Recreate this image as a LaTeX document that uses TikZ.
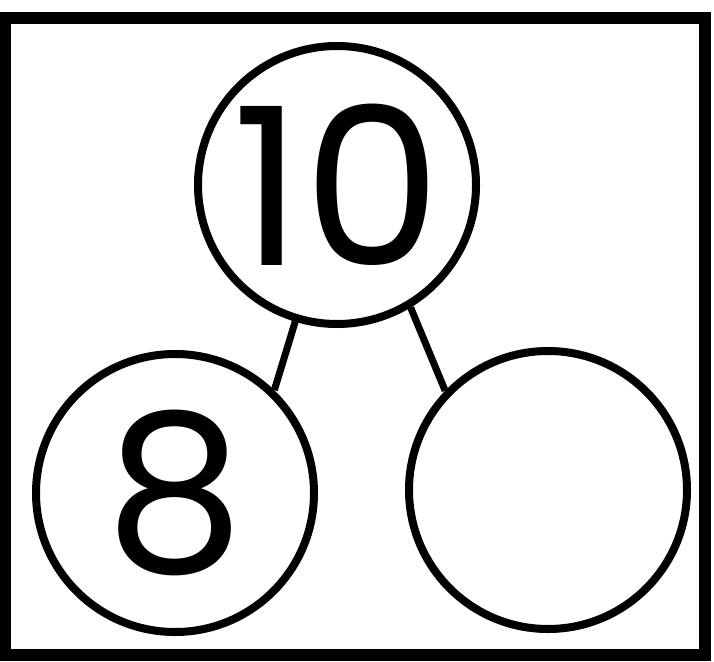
\documentclass[tikz,border=0pt]{standalone}
\usepackage{fontspec}
\newfontfamily\digitfont{Poppins}
\usetikzlibrary{shapes}

\begin{document}
\begin{tikzpicture}[x=1pt,y=-1pt,
    bubble/.style={draw,circle,line width=8pt,inner sep=0pt,minimum size=278pt,
      font=\digitfont\fontsize{220}{220}\selectfont},
    link/.style={line width=7pt}]
  \useasboundingbox (0,0) rectangle (714,661);
  \draw[line width=12pt] (5,18) rectangle (705,655);
  \node[bubble] (ten) at (337,185) {10};
  \node[bubble] (eight) at (175,493) {8};
  \node[bubble] (blank) at (548,490) {};
  \path[link] (ten.253) edge (eight.46) (ten.301) edge (blank.136);
\end{tikzpicture}
\end{document}
